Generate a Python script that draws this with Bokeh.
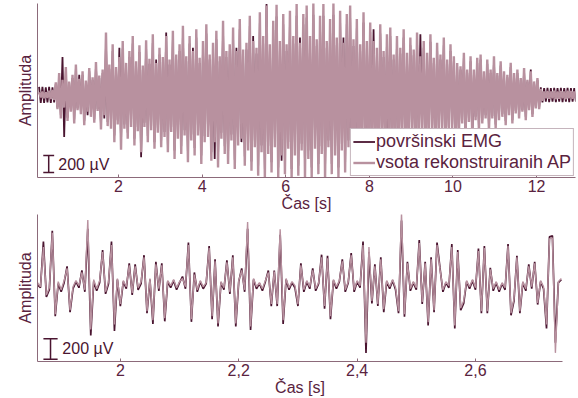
import numpy as np
from bokeh.plotting import figure
from bokeh.layouts import column
from bokeh.models import FixedTicker, Legend, LegendItem
from bokeh.core.properties import value
from bokeh.embed import file_html
from bokeh.resources import INLINE

# ---------------- data (in microvolts) ----------------
# upper panel: per-bin max / min of each trace (dense signal drawn as an envelope)
top_t0, top_dt = 0.1, 0.08
emg_hi = [95, 95, 90, 95, 90,
          130, 220, 450, 280, 140, 200, 310, 240, 240, 150, 280, 180, 340, 200, 260, 600,
          310, 520, 290, 560, 550, 330, 450, 610, 350, 510, 300, 560, 370, 620, 420, 480,
          390, 740, 360, 660, 420, 520, 710, 400, 610, 560, 680, 380, 560, 730, 420, 540,
          660, 400, 770, 450, 520, 700, 560, 780, 470,
          540, 820, 700, 490, 850, 610, 1080, 520, 770, 930, 560, 840, 520, 870, 610, 940,
          680, 840, 920, 610, 950, 580, 820, 940, 560, 790, 950, 590, 870, 680, 840, 920,
          580, 790, 520, 860, 560, 750,
          780, 490, 730, 450, 630, 700, 420, 610, 490, 680, 440, 590, 470, 650, 720, 560,
          440, 630, 380, 540, 420, 590, 370, 520, 400,
          330, 300, 440, 260, 400, 260, 380, 420, 240, 370, 260, 400, 230, 350, 240, 210, 330, 230,
          260, 180, 280, 160, 300, 140, 180, 90,
          80, 85, 80, 85, 80, 85, 80, 85, 80, 80]
emg_lo = [-95, -95, -90, -95, -90,
          -150, -240, -500, -270, -180, -290, -160, -200, -310, -240, -230, -290, -170, -360, -280, -320,
          -350, -480, -300, -560, -350, -450, -330, -520, -380, -740, -330, -490, -370, -560, -390, -540,
          -440, -590, -380, -660, -450, -610, -420, -700, -470, -630, -420, -720, -490, -440, -680, -760,
          -750, -450, -610, -720, -470, -770, -520, -560, -730,
          -580, -790, -540, -840, -600, -880, -610, -800, -540, -860, -780, -820, -560, -880, -630, -840,
          -580, -880, -660, -860, -560, -820, -610, -880, -540, -820, -630, -860, -580, -800, -540, -840,
          -900, -790, -520, -750, -560, -700,
          -520, -700, -470, -660, -760, -680, -450, -630, -440, -660, -470, -420, -610, -450, -400, -590,
          -440, -380, -580, -400, -370, -540, -380, -350, -490,
          -440, -300, -420, -280, -520, -260, -380, -300, -240, -380, -250, -350, -260, -230, -310, -210, -300, -190,
          -240, -180, -260, -160, -230, -140, -150, -90,
          -80, -85, -80, -85, -80, -85, -80, -85, -80, -80]
rec_hi = [30, 40, 30, 50, 60,
          150, 260, 180, 330, 160, 240, 360, 190, 280, 170, 320, 210, 390, 230, 300, 740,
          360, 600, 330, 450, 640, 380, 520, 700, 400, 590, 350, 650, 430, 720, 380, 560,
          450, 700, 420, 760, 480, 600, 820, 460, 700, 520, 780, 440, 640, 840, 480, 620,
          760, 460, 880, 520, 600, 800, 520, 900, 540,
          620, 940, 640, 560, 980, 700, 1060, 600, 880, 1070, 640, 960, 600, 1000, 700, 1080,
          620, 960, 1060, 700, 1090, 660, 940, 1080, 640, 900, 1090, 680, 1000, 620, 960, 1060,
          660, 900, 600, 980, 640, 860,
          640, 560, 840, 520, 720, 800, 480, 700, 560, 780, 500, 680, 540, 740, 460, 640,
          500, 720, 440, 620, 480, 680, 420, 600, 460,
          380, 340, 500, 300, 460, 300, 440, 480, 280, 420, 300, 460, 260, 400, 280, 240, 380, 260,
          300, 200, 320, 180, 280, 160, 200, 70,
          40, 45, 40, 50, 40, 45, 40, 50, 45, 40]
rec_lo = [-30, -40, -35, -50, -60,
          -170, -280, -150, -310, -200, -340, -180, -230, -360, -200, -260, -330, -190, -410, -240, -370,
          -400, -560, -350, -650, -400, -520, -380, -600, -430, -680, -380, -560, -420, -640, -450, -620,
          -500, -680, -440, -760, -520, -700, -480, -800, -540, -720, -480, -820, -560, -500, -780, -560,
          -860, -520, -700, -820, -540, -880, -600, -520, -840,
          -660, -900, -620, -960, -680, -1000, -700, -920, -620, -980, -720, -940, -640, -1000, -720, -960,
          -660, -1000, -760, -980, -640, -940, -700, -1000, -620, -940, -720, -980, -660, -920, -620, -960,
          -700, -900, -600, -860, -640, -800,
          -600, -800, -540, -760, -580, -780, -520, -720, -500, -760, -540, -480, -700, -520, -460, -680,
          -500, -440, -660, -460, -420, -620, -440, -400, -560,
          -500, -340, -480, -320, -460, -300, -440, -340, -280, -440, -280, -400, -300, -260, -360, -240, -340, -220,
          -280, -200, -300, -180, -260, -160, -170, -70,
          -40, -45, -40, -50, -45, -40, -50, -40, -45, -40]

# lower panel: zoomed traces
bot_t0, bot_dt = 1.86, 0.005
bot_emg = [10, -20, 435, -110, -40, 540, -300, 20, -60, 30,
           190, -260, -30, 40, -20, 150, -60, 560, -490, 40,
           -50, 30, 350, -80, 20, 435, -445, 60, -200, 40,
           -30, 220, -90, 210, -40, 20, 300, -270, 60, -375,
           235, -50, 220, -350, 40, -20, 50, -40, 30, 90,
           -30, 425, -355, 130, -60, 40, -30, 20, 390, -330,
           260, -400, 30, -40, 250, -80, 300, -400, 40, 170,
           -60, 560, -435, 60, -30, 20, -50, 40, 150, -200,
           150, -200, 500, -375, 60, -40, 30, -20, -200, 220,
           -60, 40, -30, 170, -50, 20, 305, -225, 295, -330,
           50, -30, 40, 260, -60, 30, 320, -60, 40, -20,
           435, -660, 330, -175, 210, -200, 280, -260, 40, -30,
           50, -40, -270, 640, -305, 235, -50, 30, -40, 450,
           -180, 235, -390, 280, -260, 425, 175, -60, 30, -20,
           410, -420, 350, -240, -175, 40, -30, 50, -40, 365,
           -270, 390, -270, 175, -50, 30, -60, 20, -40, 410,
           -290, -150, 295, -270, 30, -50, 210, -30, 235, -185,
           40, -30, -420, 480, 490, -560, 30, 60]
bot_rec = [30, -10, 380, -90, -20, 520, -280, 40, -40, 50,
           170, -240, -10, 50, 0, 130, -40, 645, -430, 60,
           -30, 50, 330, -60, 40, 400, -380, 70, -180, 50,
           -10, 200, -70, 190, -20, 40, 280, -250, 70, -340,
           210, -30, 200, -320, 50, 0, 60, -20, 40, 70,
           -10, 400, -330, 110, -40, 50, -10, 30, 370, -300,
           240, -370, 40, -20, 230, -60, 280, -370, 50, 150,
           -40, 625, -400, 70, -10, 30, -30, 50, 130, -180,
           140, -180, 555, -340, 70, -20, 40, 0, -180, 200,
           -40, 50, -10, 150, -30, 30, 280, -200, 270, -300,
           60, -10, 50, 240, -40, 40, 300, -40, 50, 0,
           400, -560, 380, -150, 190, -180, 260, -230, 50, -10,
           60, -20, -250, 715, -280, 220, -30, 40, -20, 420,
           -160, 220, -360, 260, -240, 400, 160, -40, 40, 0,
           380, -390, 330, -220, -150, 50, -10, 60, -20, 340,
           -250, 370, -250, 160, -30, 40, -40, 30, -20, 390,
           -270, -130, 280, -250, 40, -30, 190, -10, 220, -170,
           50, -10, -380, 460, 470, -660, 40, 70]

top_ticks = [2, 4, 6, 8, 10, 12]
bot_ticks = [2.0, 2.2, 2.4, 2.6]
bot_tick_labels = ["2", "2,2", "2,4", "2,6"]
legend_labels = ["površinski EMG", "vsota rekonstruiranih AP"]
x_label = "Čas [s]"
y_label = "Amplituda"
scale_uv = 200
scale_label = "200 µV"

# ---------------- style ----------------
FONT = "Liberation Sans"
DARK = "#4a1530"
LIGHT = "#b8919f"
TEXT = "#5a2340"
AXIS = "#8c6a7a"


def style(p, ticks, overrides=None):
    p.grid.visible = False
    p.outline_line_color = None
    p.background_fill_color = "white"
    p.border_fill_color = "white"
    xa = p.xaxis[0]
    xa.ticker = FixedTicker(ticks=ticks)
    if overrides:
        xa.major_label_overrides = overrides
    xa.axis_label = x_label
    xa.axis_label_text_font = FONT
    xa.axis_label_text_font_size = "16px"
    xa.axis_label_text_font_style = "normal"
    xa.axis_label_text_color = TEXT
    xa.axis_label_standoff = 0
    xa.major_label_text_font = FONT
    xa.major_label_text_font_size = "16px"
    xa.major_label_text_color = TEXT
    xa.major_label_standoff = 2
    xa.major_tick_in = 3
    xa.major_tick_out = 0
    xa.major_tick_line_color = AXIS
    xa.minor_tick_line_color = None
    xa.axis_line_color = AXIS
    ya = p.yaxis[0]
    ya.ticker = FixedTicker(ticks=[])
    ya.major_label_text_font_size = "0px"
    ya.major_tick_line_color = None
    ya.minor_tick_line_color = None
    ya.axis_line_color = AXIS
    ya.axis_label = y_label
    ya.axis_label_text_font = FONT
    ya.axis_label_text_font_size = "16px"
    ya.axis_label_text_font_style = "normal"
    ya.axis_label_text_color = TEXT
    ya.axis_label_standoff = 4


def scale_bar(p, t, half, y0, t_text):
    p.segment(x0=[t, t - half, t - half], y0=[y0, y0, y0 + scale_uv],
              x1=[t, t + half, t + half], y1=[y0 + scale_uv, y0, y0 + scale_uv],
              line_color=DARK, line_width=1.5)
    p.text(x=[t_text], y=[y0 + scale_uv / 2], text=[scale_label],
           text_font=value(FONT), text_font_size="16px", text_color=DARK,
           text_baseline="middle", text_align="left")


def zigzag(t, hi, lo, dt):
    # each bin is drawn as a stroke from its maximum to its minimum
    x = np.column_stack([t, t + dt / 2]).ravel()
    y = np.column_stack([hi, lo]).ravel()
    return x, y


# ---------------- top panel ----------------
top_t = top_t0 + top_dt * np.arange(len(rec_hi))
top = figure(width=578, height=214, x_range=(0.062, 12.93), y_range=(-980, 1085),
             output_backend="svg", toolbar_location=None,
             min_border_left=37, min_border_right=3, min_border_top=3, min_border_bottom=0)
ex, ey = zigzag(top_t, emg_hi, emg_lo, top_dt)
rx, ry = zigzag(top_t, rec_hi, rec_lo, top_dt)
r1 = top.line(ex, ey, line_color=DARK, line_width=1.8)
r2 = top.line(rx, ry, line_color=LIGHT, line_width=2.4)
style(top, top_ticks)
scale_bar(top, 0.33, 0.13, -920, 0.56)
legend = Legend(items=[LegendItem(label=legend_labels[0], renderers=[r1]),
                       LegendItem(label=legend_labels[1], renderers=[r2])],
                location="bottom_right")
legend.margin = 1
legend.padding = 2
legend.spacing = 0
legend.label_height = 15
legend.glyph_height = 15
legend.glyph_width = 22
legend.label_standoff = 1
legend.label_text_font = FONT
legend.label_text_font_size = "18px"
legend.label_text_color = TEXT
legend.border_line_color = AXIS
legend.border_line_width = 1
legend.background_fill_alpha = 1.0
top.add_layout(legend)

# ---------------- bottom panel ----------------
bot_t = bot_t0 + bot_dt * np.arange(len(bot_rec))
bot = figure(width=565, height=184, x_range=(1.86, 2.747), y_range=(-745, 700),
             output_backend="svg", toolbar_location=None,
             min_border_left=37, min_border_right=3, min_border_top=0, min_border_bottom=0)
bot.line(bot_t, bot_emg, line_color=DARK, line_width=1.7)
bot.line(bot_t, bot_rec, line_color=LIGHT, line_width=1.4)
style(bot, bot_ticks, dict(zip(bot_ticks, bot_tick_labels)))
scale_bar(bot, 1.882, 0.012, -722, 1.902)

layout = column(top, bot)
open("out.html", "w").write(file_html(layout, INLINE))
